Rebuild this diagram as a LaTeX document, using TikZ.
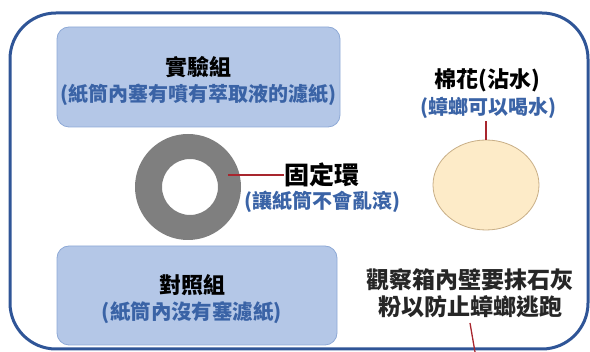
\documentclass[tikz,border=0pt]{standalone}
\usepackage{fontspec}
\usetikzlibrary{shapes.geometric}
\setmainfont{Noto Sans CJK TC}
\definecolor{frameblue}{HTML}{2F5597}
\definecolor{boxfill}{HTML}{B4C7E7}
\definecolor{boxline}{HTML}{8EA9D6}
\definecolor{subblue}{HTML}{3A63A6}
\definecolor{ringgray}{HTML}{7F7F7F}
\definecolor{cotton}{HTML}{FDEBC8}
\definecolor{cottonline}{HTML}{C8AE86}
\definecolor{linkred}{HTML}{A8262E}
\definecolor{notegray}{HTML}{262626}
\tikzset{
  groupbox/.style={draw=boxline, line width=0.8pt, fill=boxfill, rounded corners=12pt, inner sep=0pt},
  titletext/.style={inner sep=0pt, font=\fontsize{22}{26}\selectfont\bfseries, text=black},
  subtext/.style={inner sep=0pt, font=\fontsize{20}{24}\selectfont\bfseries, text=subblue},
  notetext/.style={inner sep=0pt, font=\fontsize{23}{27}\selectfont\bfseries, text=notegray},
  link/.style={draw=linkred, line width=1.3pt}
}
\begin{document}
\begin{tikzpicture}[x=1pt,y=-1pt]
\useasboundingbox (0,0) rectangle (590,352);
% outer box
\draw[frameblue, line width=3pt, rounded corners=46pt] (10,13) rectangle (588,349);
% experimental group
\node[groupbox, minimum width=283pt, minimum height=100pt] (exp) at (198.5,77) {};
\node[titletext] (expt) at (198.5,67) {實驗組};
\node[subtext] (exps) at (198.5,95) {(紙筒內塞有噴有萃取液的濾紙)};
% control group
\node[groupbox, minimum width=280pt, minimum height=99pt] (ctl) at (197,295.5) {};
\node[titletext] (ctlt) at (192,285) {對照組};
\node[subtext, font=\fontsize{20.5}{24}\selectfont\bfseries] (ctls) at (192,313) {(紙筒內沒有塞濾紙)};
% ring
\fill[ringgray, even odd rule] (188,187) circle[radius=53pt] (190,187) circle[radius=28pt];
\coordinate (ringpt) at (228,175);
\node[titletext, font=\fontsize{25}{29}\selectfont\bfseries] (ringt) at (322,175) {固定環};
\node[subtext] (rings) at (322,202) {(讓紙筒不會亂滾)};
\draw[link] (ringpt) -- (ringt.west);
% cotton
\node[draw=cottonline, line width=0.8pt, fill=cotton, ellipse, minimum width=106pt, minimum height=90pt, inner sep=0pt] (cot) at (486,185) {};
\node[titletext] (cott) at (487,80) {棉花(沾水)};
\node[subtext] (cots) at (488,108) {(蟑螂可以喝水)};
\coordinate (cottop) at (486,121);
\draw[link] (cot.north) -- (cottop);
% note
\node[notetext] (note1) at (470,280) {觀察箱內壁要抹石灰};
\node[notetext] (note2) at (470,307) {粉以防止蟑螂逃跑};
\coordinate (notestart) at (470,323);
\coordinate (noteend) at (475,352);
\draw[link] (notestart) -- (noteend);
\end{tikzpicture}
\end{document}
